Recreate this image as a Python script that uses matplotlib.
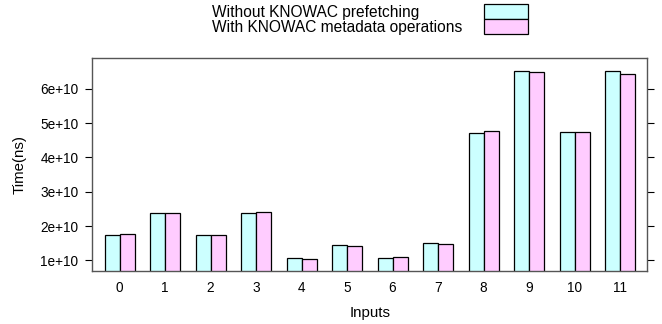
import numpy as np
import matplotlib
matplotlib.use('Agg')
import matplotlib.pyplot as plt
from matplotlib.patches import Rectangle

plt.rcParams['font.family'] = ['Liberation Sans', 'DejaVu Sans']

inputs = [str(i) for i in range(12)]
without_prefetch = [1.74, 2.38, 1.73, 2.39, 1.07, 1.455, 1.08, 1.50, 4.72, 6.51, 4.74, 6.53]
with_metadata = [1.78, 2.38, 1.73, 2.40, 1.05, 1.41, 1.10, 1.47, 4.77, 6.50, 4.74, 6.44]
series_names = ['Without KNOWAC prefetching', 'With KNOWAC metadata operations']
colors = ['#CCFFFF', '#FFCCFF']
yticks = [1, 2, 3, 4, 5, 6]
ytick_labels = ['%de+10' % v for v in yticks]

fig = plt.figure(figsize=(6.62, 3.24), dpi=100)
ax = fig.add_axes([0.1394, 0.1627, 0.8384, 0.6593])

x = np.arange(len(inputs))
w = 0.33
ax.bar(x - w / 2, without_prefetch, w, color=colors[0], edgecolor='black', linewidth=0.9)
ax.bar(x + w / 2, with_metadata, w, color=colors[1], edgecolor='black', linewidth=0.9)

ax.set_xlim(-0.6, 11.6)
ax.set_ylim(0.68, 6.91)
ax.set_xticks(x)
ax.set_xticklabels(inputs)
ax.set_yticks(yticks)
ax.set_yticklabels(ytick_labels)
ax.tick_params(axis='x', length=0, pad=7, labelsize=9.8)
ax.tick_params(axis='y', direction='out', length=5, width=0.8, labelsize=9.8,
               right=True, pad=5)
for s in ax.spines.values():
    s.set_color('#555555')
    s.set_linewidth(1.0)

ax.set_xlabel('Inputs', fontsize=10.8, labelpad=8)
ax.set_ylabel('Time(ns)', fontsize=10.8, labelpad=10)

# legend drawn in lattice style: text lines on the left, stacked boxes on the right
fig.text(212 / 662, 1 - 12 / 324, series_names[0], fontsize=11.2, va='center', ha='left')
fig.text(212 / 662, 1 - 27.5 / 324, series_names[1], fontsize=11.2, va='center', ha='left')
for i, c in enumerate(colors):
    fig.patches.append(Rectangle((484 / 662, 1 - (19 + 15 * i) / 324), 44 / 662, 15 / 324,
                                 transform=fig.transFigure, facecolor=c,
                                 edgecolor='black', linewidth=0.9))

fig.savefig('out.png', dpi=100)
